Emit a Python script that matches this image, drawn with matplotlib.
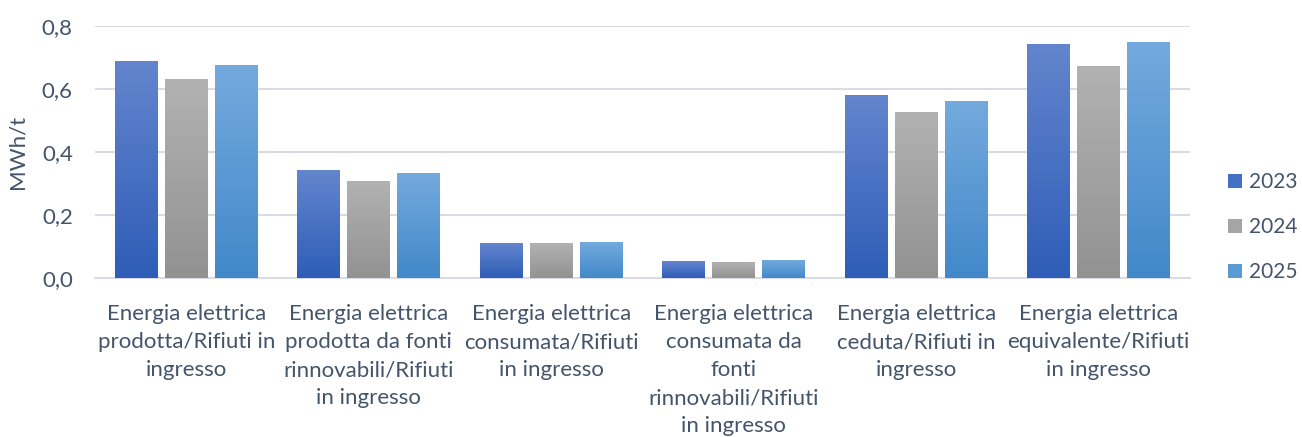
import numpy as np
import matplotlib
matplotlib.use("Agg")
import matplotlib.pyplot as plt
from matplotlib.colors import LinearSegmentedColormap
from matplotlib.patches import Patch

categories = [
    "Energia elettrica\nprodotta/Rifiuti in\ningresso",
    "Energia elettrica\nprodotta da fonti\nrinnovabili/Rifiuti\nin ingresso",
    "Energia elettrica\nconsumata/Rifiuti\nin ingresso",
    "Energia elettrica\nconsumata da\nfonti\nrinnovabili/Rifiuti\nin ingresso",
    "Energia elettrica\nceduta/Rifiuti in\ningresso",
    "Energia elettrica\nequivalente/Rifiuti\nin ingresso",
]
years = ["2023", "2024", "2025"]
v2023 = [0.689, 0.340, 0.111, 0.051, 0.581, 0.740]
v2024 = [0.629, 0.308, 0.111, 0.048, 0.527, 0.673]
v2025 = [0.676, 0.333, 0.114, 0.057, 0.559, 0.749]
yticks = [0.0, 0.2, 0.4, 0.6, 0.8]
ytick_labels = ["0,0", "0,2", "0,4", "0,6", "0,8"]

series = [v2023, v2024, v2025]
grads = [("#6485CE", "#2E5DB7"), ("#B2B2B2", "#929292"), ("#74AADD", "#4288CA")]
mids = ["#4470C4", "#A5A5A5", "#5B9BD5"]

plt.rcParams['font.family'] = ['Lato', 'DejaVu Sans']
text_color = "#44546A"
fs = 16

fig = plt.figure(figsize=(13.02, 4.37), dpi=100)
ax = fig.add_axes([0.073, 0.364, 0.841, 0.5765])

x = np.arange(len(categories))
width = 0.235
offset = 0.274
for i, vals in enumerate(series):
    bars = ax.bar(x + (i - 1) * offset, vals, width, color="none", edgecolor="none", zorder=3)
    cmap = LinearSegmentedColormap.from_list("g%d" % i, [grads[i][1], grads[i][0]])
    grad = np.linspace(0, 1, 256).reshape(-1, 1)
    for b in bars:
        bx, bw, bh = b.get_x(), b.get_width(), b.get_height()
        ax.imshow(grad, extent=[bx, bx + bw, 0, bh], origin="lower", aspect="auto",
                  cmap=cmap, zorder=3, interpolation="bilinear")

ax.set_xlim(-0.5, len(categories) - 0.5)
ax.set_ylim(0, 0.8)
ax.set_yticks(yticks)
ax.set_yticklabels(ytick_labels)
ax.set_xticks(x)
ax.set_xticklabels(categories, linespacing=1.5)
ax.grid(axis="y", color="#D9DDE3", linewidth=1.5, zorder=0)
ax.set_axisbelow(True)
for s in ["top", "right", "left"]:
    ax.spines[s].set_visible(False)
ax.spines["bottom"].set_color("#D9DDE3")
ax.spines["bottom"].set_linewidth(1.5)
ax.tick_params(axis="both", length=0, labelsize=fs, colors=text_color)
ax.tick_params(axis="x", pad=19)
ax.tick_params(axis="y", pad=16)
ax.set_ylabel("MWh/t", fontsize=fs, color=text_color, labelpad=10)

handles = [Patch(facecolor=mids[i], edgecolor="none") for i in range(3)]
fig.legend(handles, years, loc="center left", bbox_to_anchor=(0.943, 0.48),
           frameon=False, fontsize=15, labelcolor=text_color, borderpad=0, borderaxespad=0,
           handlelength=0.7, handleheight=0.7, labelspacing=1.2, handletextpad=0.3)

fig.savefig("out.png", dpi=100)
